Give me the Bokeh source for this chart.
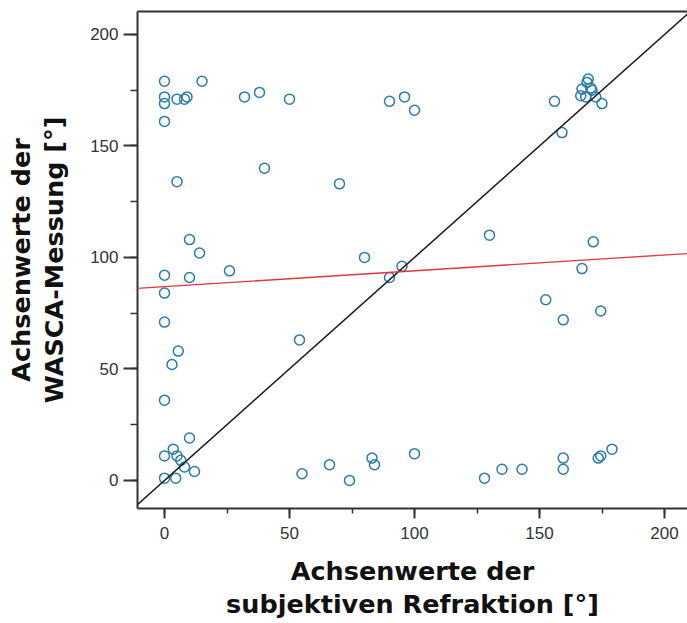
from bokeh.plotting import figure
from bokeh.models import Range1d, SingleIntervalTicker, LinearAxis, FixedTicker, Slope
from bokeh.embed import file_html
from bokeh.resources import INLINE

# Achsenwerte der subjektiven Refraktion [°]
refraktion = [
    0, 0, 0, 0, 5, 8, 9, 15, 32, 38, 50, 90, 96, 100,
    156, 159, 166.5, 167, 168.5, 169, 169.5, 170.5, 171, 172.5, 175,
    40, 5, 70, 10, 14, 80, 0, 10, 26, 95, 90, 0, 0, 54, 5.5, 3, 0,
    130, 171.5, 167, 152.5, 174.5, 159.5,
    10, 3.5, 0, 5, 6.5, 8, 12, 0, 4.5, 55, 66, 83, 84, 74, 100,
    128, 135, 143, 159.5, 159.5, 173.5, 174.5, 179,
]
# Achsenwerte der WASCA-Messung [°]
wasca = [
    179, 172, 169, 161, 171, 171, 172, 179, 172, 174, 171, 170, 172, 166,
    170, 156, 172.5, 175.5, 172, 178.5, 180, 176, 175, 172, 169,
    140, 134, 133, 108, 102, 100, 92, 91, 94, 96, 91, 84, 71, 63, 58, 52, 36,
    110, 107, 95, 81, 76, 72,
    19, 14, 11, 11, 9, 6, 4, 1, 1, 3, 7, 10, 7, 0, 12,
    1, 5, 5, 10, 5, 10, 11, 14,
]

# linear fit (red) and identity line (black)
fit_intercept = 86.9
fit_slope = 0.071
ident_intercept = 0
ident_slope = 1

tick_interval = 50

p = figure(
    width=687, height=623,
    output_backend="svg", toolbar_location=None,
    x_range=Range1d(-10.8, 209.2), y_range=Range1d(-12.6, 210.3),
    min_border_left=137, min_border_right=0, min_border_top=11, min_border_bottom=115,
    background_fill_color="white", border_fill_color="white",
)
p.grid.visible = False
p.outline_line_color = None

for ax in (p.xaxis[0], p.yaxis[0]):
    ax.ticker = SingleIntervalTicker(interval=tick_interval, num_minor_ticks=2)
    ax.axis_line_color = "#333333"
    ax.axis_line_width = 2
    ax.major_tick_line_color = "#333333"
    ax.major_tick_line_width = 2
    ax.minor_tick_line_color = "#333333"
    ax.minor_tick_line_width = 1.5
    ax.major_tick_in = 0
    ax.minor_tick_in = 0
    ax.major_label_text_font = "Liberation Sans"
    ax.major_label_text_font_size = "17px"
    ax.major_label_text_color = "#333333"
    ax.axis_label_text_font = "DejaVu Sans"
    ax.axis_label_text_font_style = "bold"
    ax.axis_label_text_font_size = "25.5px"
    ax.axis_label_text_line_height = 1.1
    ax.axis_label_text_color = "#111111"

p.xaxis.major_tick_out = 10
p.xaxis.minor_tick_out = 5
p.xaxis.major_label_standoff = 8
p.xaxis.axis_label = "Achsenwerte der\nsubjektiven Refraktion [°]"
p.xaxis.axis_label_standoff = 14

p.yaxis.major_tick_out = 14
p.yaxis.minor_tick_out = 7
p.yaxis.major_label_standoff = 5
p.yaxis.axis_label = "Achsenwerte der\nWASCA-Messung [°]"
p.yaxis.axis_label_standoff = 18

top = LinearAxis(
    ticker=FixedTicker(ticks=[], minor_ticks=[]),
    axis_line_color="#333333", axis_line_width=2,
    major_tick_line_color=None, minor_tick_line_color=None,
    major_label_text_font_size="0px",
)
p.add_layout(top, "above")

p.scatter(refraktion, wasca, marker="circle", size=10,
          fill_color=None, line_color="#2b7bab", line_width=1.5)

p.add_layout(Slope(gradient=ident_slope, y_intercept=ident_intercept,
                   line_color="#1a1a1a", line_width=1.5))
p.add_layout(Slope(gradient=fit_slope, y_intercept=fit_intercept,
                   line_color="#e0383c", line_width=1.3))

open("out.html", "w").write(file_html(p, INLINE))
